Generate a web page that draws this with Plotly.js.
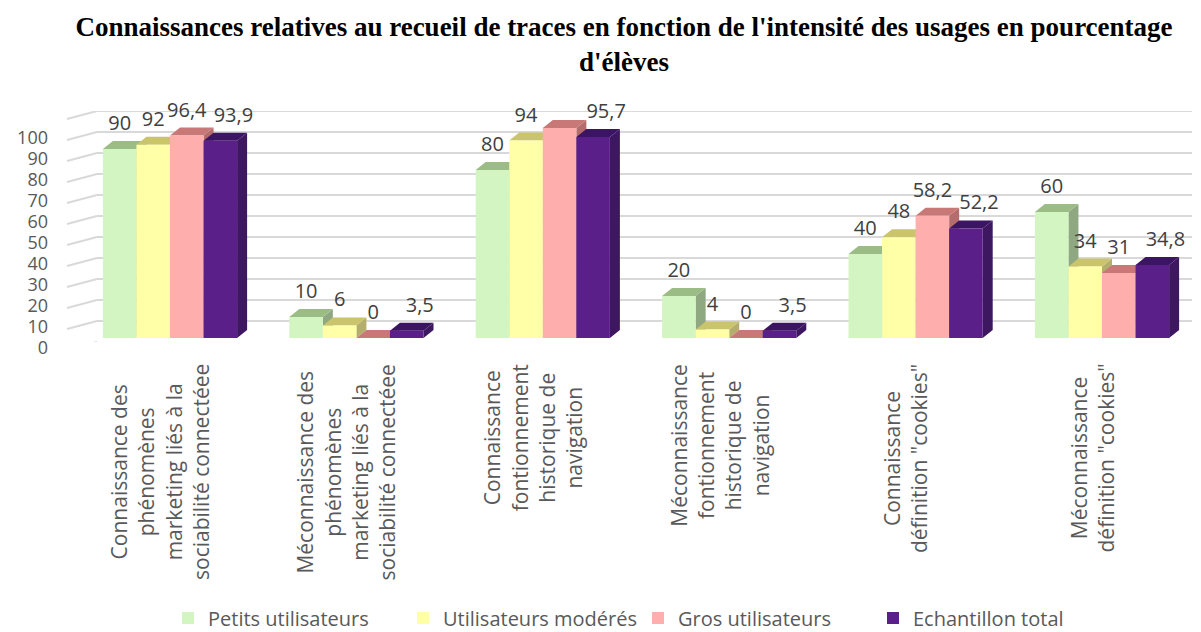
<!DOCTYPE html>
<html>
<head>
<meta charset="utf-8">
<script src="https://cdn.plot.ly/plotly-3.0.1.min.js"></script>
<style>html,body{margin:0;padding:0;background:#fff;}#chart{width:1201px;height:632px;}</style>
</head>
<body>
<div id="chart"></div>
<script>
// ---- data ----
var categories = [
  "Connaissance des<br>phénomènes<br>marketing liés à la<br>sociabilité connectéee",
  "Méconnaissance des<br>phénomènes<br>marketing liés à la<br>sociabilité connectéee",
  "Connaissance<br>fontionnement<br>historique de<br>navigation",
  "Méconnaissance<br>fontionnement<br>historique de<br>navigation",
  "Connaissance<br>définition \"cookies\"",
  "Méconnaissance<br>définition \"cookies\""
];
var seriesNames = ["Petits utilisateurs", "Utilisateurs modérés", "Gros utilisateurs", "Echantillon total"];
var petits   = [90, 10, 80, 20, 40, 60];
var moderes  = [92, 6, 94, 4, 48, 34];
var gros     = [96.4, 0, 100, 0, 58.2, 31];
var total    = [93.9, 3.5, 95.7, 3.5, 52.2, 34.8];
var yTickVals = [0, 10, 20, 30, 40, 50, 60, 70, 80, 90, 100];

// ---- styling ----
var frontColors = ["#d3f5c1", "#ffffa8", "#ffaeae", "#5a1f88"];
var topColors   = ["#9cbc86", "#cac46c", "#c97878", "#3c1562"];
var sideColors  = ["#8fa882", "#b4ae6c", "#b46c6c", "#3d1860"];
var labelXShift = [0, 0, 0, 0.07];
var allSeries = [petits, moderes, gros, total];

var W = 1201, H = 632;
var plotL = 97, plotR = 1192, plotT = 111, plotB = 342;
var pxPerCat = 186.4, cat0px = 170;
var xr0 = (plotL - cat0px) / pxPerCat;
var xr1 = xr0 + (plotR - plotL) / pxPerCat;
var pxPerUnit = 2.1;
var barBaseShift = 4 / pxPerUnit; // bars sit slightly above the back-wall zero
var y2range = [-barBaseShift, 110 - barBaseShift];
var bargap = 0.28;
var bw = (1 - bargap) / 4;
var dx = 10 / pxPerCat, dy = 8 / pxPerUnit;
var idx = categories.map(function (_, i) { return i; });

var traces = [];
// 3D side/top faces (layer under front faces)
allSeries.forEach(function (vals, j) {
  var sx = [], sy = [], tx = [], ty = [];
  vals.forEach(function (v, i) {
    var xl = i + (j - 1.5) * bw - bw / 2, xr = xl + bw;
    sx.push(xr, xr + dx, xr + dx, xr, xr, null);
    sy.push(0, dy, v + dy, v, 0, null);
    tx.push(xl, xl + dx, xr + dx, xr, xl, null);
    ty.push(v, v + dy, v + dy, v, v, null);
  });
  traces.push({type: "scatter", x: sx, y: sy, xaxis: "x", yaxis: "y2", mode: "lines",
    fill: "toself", fillcolor: sideColors[j], line: {width: 0, color: sideColors[j]},
    hoverinfo: "skip", showlegend: false, cliponaxis: false});
  traces.push({type: "scatter", x: tx, y: ty, xaxis: "x", yaxis: "y2", mode: "lines",
    fill: "toself", fillcolor: topColors[j], line: {width: 0, color: topColors[j]},
    hoverinfo: "skip", showlegend: false, cliponaxis: false});
});
// front faces
allSeries.forEach(function (vals, j) {
  traces.push({type: "bar", name: seriesNames[j], x: idx, y: vals, xaxis: "x", yaxis: "y3",
    marker: {color: frontColors[j], line: {width: 0}}, hoverinfo: "name+y", cliponaxis: false});
});
// data labels
allSeries.forEach(function (vals, j) {
  traces.push({type: "scatter", mode: "text", xaxis: "x", yaxis: "y3", showlegend: false, hoverinfo: "skip",
    cliponaxis: false,
    x: vals.map(function (v, i) { return i + (j - 1.5) * bw + labelXShift[j]; }),
    y: vals.map(function (v) { return v + 24 / pxPerUnit; }),
    text: vals.map(function (v) { return String(v).replace(".", ","); }),
    textposition: "middle center",
    textfont: {family: "Open Sans", size: 20, color: "#404040"}});
});

var shapes = [];
var diag = 30, diagDy = 8 / pxPerUnit;
var gridVals = yTickVals.concat([110]);
gridVals.forEach(function (v) {
  shapes.push({type: "line", xref: "paper", yref: "y", x0: -diag / (plotR - plotL), x1: 0,
    y0: v - diagDy, y1: v, line: {color: "#d9d9d9", width: 2}, layer: "below"});
  if (v > 0) {
    shapes.push({type: "line", xref: "paper", yref: "y", x0: 0, x1: 1, y0: v, y1: v,
      line: {color: "#d9d9d9", width: 2}, layer: "below"});
  }
});

var annotations = categories.map(function (c, i) {
  return {x: i, xref: "x", xshift: -10, y: (plotB - 362) / (plotB - plotT), yref: "paper",
    yanchor: "top", xanchor: "center", text: c, textangle: -90, align: "center", showarrow: false,
    font: {family: "Open Sans", size: 21, color: "#595959"}};
});

var layout = {
  width: W, height: H,
  margin: {l: plotL, r: W - plotR, t: plotT, b: H - plotB, pad: 0, autoexpand: false},
  paper_bgcolor: "#ffffff", plot_bgcolor: "#ffffff",
  title: {text: "<b>Connaissances relatives au recueil de traces en fonction de l'intensité des usages en pourcentage<br>d'élèves</b>",
    font: {family: "Liberation Serif", size: 27, color: "#000000"},
    x: 624 / W, xref: "container", xanchor: "center",
    y: 1 - 36 / H, yref: "container", yanchor: "middle"},
  barmode: "group", bargap: bargap, bargroupgap: 0,
  showlegend: true,
  legend: {orientation: "h", x: 168 / W, xref: "container", xanchor: "left",
    y: 1 - 618 / H, yref: "container", yanchor: "middle",
    entrywidth: 190, entrywidthmode: "pixels",
    font: {family: "Open Sans", size: 20, color: "#595959"}, traceorder: "normal"},
  xaxis: {range: [xr0, xr1], showticklabels: false, showgrid: false, zeroline: false,
    showline: false, ticks: "", tickvals: idx},
  yaxis: {range: [0, 110], tickvals: yTickVals, showgrid: false,
    zeroline: false, showline: false, ticks: "", ticklabelstandoff: 48, ticklabelshift: 6,
    tickfont: {family: "Open Sans", size: 18, color: "#595959"}},
  yaxis2: {range: y2range, overlaying: "y", visible: false},
  yaxis3: {range: y2range, overlaying: "y", visible: false},
  shapes: shapes,
  annotations: annotations
};

Plotly.newPlot("chart", traces, layout, {displayModeBar: false, staticPlot: true});
</script>
</body>
</html>
